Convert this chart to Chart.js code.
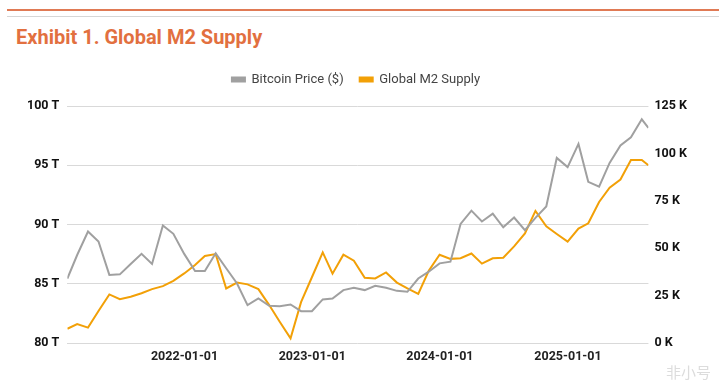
<!DOCTYPE html>
<html>
<head>
<meta charset="utf-8">
<script src="https://cdn.jsdelivr.net/npm/chart.js@4.4.0/dist/chart.umd.min.js"></script>
<style>
  html, body { margin: 0; padding: 0; background: #fff; }
  body { width: 719px; height: 388px; position: relative; overflow: hidden; font-family: Roboto, sans-serif; }
  .rule-top { position: absolute; left: 7px; right: 0; top: 9px; height: 2px; background: #e07a55; }
  .rule-sub { position: absolute; left: 7px; right: 0; top: 16px; height: 1px; background: #d6d6d6; }
  .title { position: absolute; left: 16px; top: 25px; font-size: 20px; font-weight: bold; color: #e2703f; }
  .mark { position: absolute; right: 8px; bottom: 6px; font-family: "Noto Sans CJK SC", sans-serif; font-size: 15px; color: #dcdcdc; }
  #wrap { position: absolute; left: 0; top: 0; width: 719px; height: 388px; }
</style>
</head>
<body>
<div class="rule-top"></div>
<div class="rule-sub"></div>
<div class="title">Exhibit 1. Global M2 Supply</div>
<div id="wrap"><canvas id="chart"></canvas></div>
<div class="mark">非小号</div>
<script>
// Month-end observations (last one is a partial month)
const dates = [
  '2021-01-31','2021-02-28','2021-03-31','2021-04-30','2021-05-31','2021-06-30',
  '2021-07-31','2021-08-31','2021-09-30','2021-10-31','2021-11-30','2021-12-31',
  '2022-01-31','2022-02-28','2022-03-31','2022-04-30','2022-05-31','2022-06-30',
  '2022-07-31','2022-08-31','2022-09-30','2022-10-31','2022-11-30','2022-12-31',
  '2023-01-31','2023-02-28','2023-03-31','2023-04-30','2023-05-31','2023-06-30',
  '2023-07-31','2023-08-31','2023-09-30','2023-10-31','2023-11-30','2023-12-31',
  '2024-01-31','2024-02-29','2024-03-31','2024-04-30','2024-05-31','2024-06-30',
  '2024-07-31','2024-08-31','2024-09-30','2024-10-31','2024-11-30','2024-12-31',
  '2025-01-31','2025-02-28','2025-03-31','2025-04-30','2025-05-31','2025-06-30',
  '2025-07-31','2025-08-19'
];

// Bitcoin price in $
const bitcoinPrice = [
  34000, 46400, 58800, 53500, 35900, 36200, 41700, 47000, 41700, 62000, 57600, 47000,
  38000, 38000, 47300, 39400, 31400, 20000, 23500, 19600, 19400, 20300, 16800, 16800,
  23000, 23500, 27900, 29100, 27900, 30200, 29100, 27500, 27000, 34000, 37600, 42000,
  42900, 62800, 69800, 64100, 68200, 61000, 66200, 59500, 66000, 72000, 97600, 92800,
  105000, 85000, 82500, 95000, 104200, 108500, 118000, 113500
];

// Global M2 supply in trillions
const globalM2 = [
  81.2, 81.6, 81.3, 82.7, 84.1, 83.7, 83.9, 84.2, 84.55, 84.8, 85.25, 85.87,
  86.58, 87.35, 87.5, 84.6, 85.1, 84.95, 84.55, 83.2, 81.8, 80.4, 83.45, 85.55,
  87.65, 85.85, 87.45, 86.95, 85.5, 85.45, 85.95, 85.1, 84.6, 84.15, 86.1, 87.45,
  87.1, 87.15, 87.55, 86.7, 87.15, 87.2, 88.15, 89.25, 91.15, 89.85, 89.2, 88.55,
  89.65, 90.1, 91.9, 93.1, 93.8, 95.45, 95.45, 95.0
];

const xTickLabels = ['2022-01-01', '2023-01-01', '2024-01-01', '2025-01-01'];
const m2Ticks = [80, 85, 90, 95, 100];
const btcTicks = [0, 25000, 50000, 75000, 100000, 125000];

const dayNum = s => Date.parse(s + 'T00:00:00Z') / 86400000;
const dayLabel = v => new Date(v * 86400000).toISOString().slice(0, 10);

const gray = '#a0a0a0';
const orange = '#f2a007';
const tickFont = { family: 'Roboto', size: 12.5, weight: 'bold' };

// extra room under the legend
const legendGap = {
  id: 'legendGap',
  beforeInit(chart) {
    const fit = chart.legend.fit;
    chart.legend.fit = function () {
      fit.call(this);
      this.height += 10;
    };
  }
};

new Chart(document.getElementById('chart'), {
  type: 'line',
  data: {
    datasets: [
      {
        label: 'Bitcoin Price ($)',
        data: dates.map((d, i) => ({ x: dayNum(d), y: bitcoinPrice[i] })),
        borderColor: gray,
        backgroundColor: gray,
        borderWidth: 2,
        pointRadius: 0,
        tension: 0,
        yAxisID: 'yBtc'
      },
      {
        label: 'Global M2 Supply',
        data: dates.map((d, i) => ({ x: dayNum(d), y: globalM2[i] })),
        borderColor: orange,
        backgroundColor: orange,
        borderWidth: 2,
        pointRadius: 0,
        tension: 0,
        yAxisID: 'yM2'
      }
    ]
  },
  plugins: [legendGap],
  options: {
    responsive: true,
    maintainAspectRatio: false,
    animation: false,
    layout: { padding: { top: 57, left: 19, right: 26, bottom: 18 } },
    plugins: {
      legend: {
        labels: {
          boxWidth: 13,
          boxHeight: 4,
          padding: 16,
          color: '#444',
          font: { family: 'Roboto', size: 13 }
        }
      },
      tooltip: { enabled: false }
    },
    scales: {
      x: {
        type: 'linear',
        min: dayNum(dates[0]),
        max: dayNum(dates[dates.length - 1]),
        afterBuildTicks: scale => {
          scale.ticks = xTickLabels.map(t => ({ value: dayNum(t) }));
        },
        grid: { display: false, drawTicks: false },
        border: { display: false },
        ticks: {
          autoSkip: false,
          maxRotation: 0,
          padding: 6,
          color: '#222',
          font: tickFont,
          callback: v => dayLabel(v)
        }
      },
      yM2: {
        position: 'left',
        min: 80,
        max: 100,
        afterBuildTicks: scale => {
          scale.ticks = m2Ticks.map(v => ({ value: v }));
        },
        grid: { color: '#d9d9d9', drawTicks: false },
        border: { display: false },
        ticks: {
          padding: 8,
          color: '#111',
          font: tickFont,
          callback: v => v + ' T'
        }
      },
      yBtc: {
        position: 'right',
        min: 0,
        max: 125000,
        afterBuildTicks: scale => {
          scale.ticks = btcTicks.map(v => ({ value: v }));
        },
        grid: { display: false, drawTicks: false },
        border: { display: false },
        ticks: {
          padding: 6,
          color: '#111',
          font: tickFont,
          callback: v => (v / 1000) + ' K'
        }
      }
    }
  }
});
</script>
</body>
</html>
